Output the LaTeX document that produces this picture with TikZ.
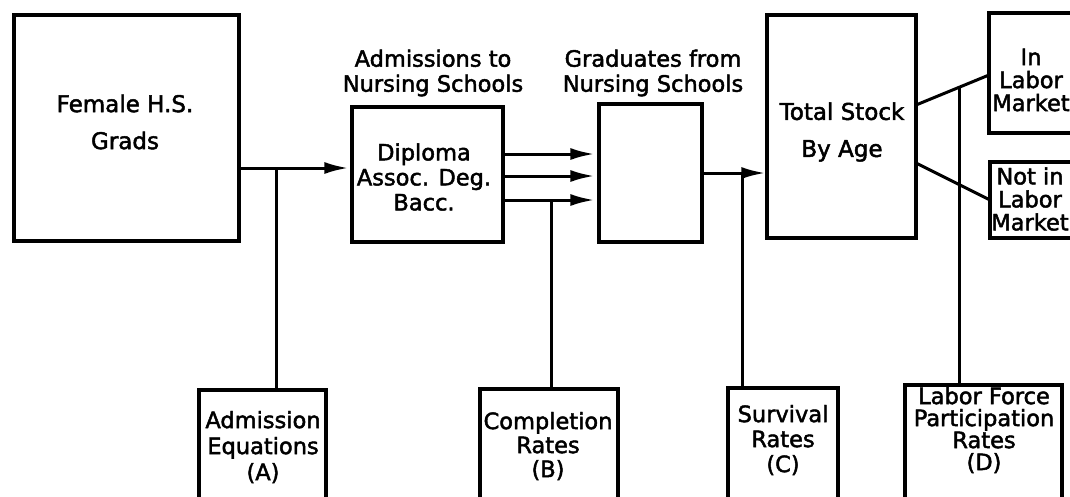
\documentclass[tikz,border=0pt]{standalone}
\usepackage{fontspec}
\setmainfont{DejaVu Sans}[FakeBold=2]
\usetikzlibrary{arrows.meta,calc}
\begin{document}
\begin{tikzpicture}[x=1pt,y=-1pt,
  line width=3pt,
  boxnode/.style={draw,rectangle,inner sep=0pt,line width=3.2pt},
  txt/.style={align=center,inner sep=0pt,font=\fontsize{22.5}{25}\selectfont},
  arr/.style={-{Latex[length=24pt,width=12pt]}},
]
\useasboundingbox (0,0) rectangle (1070,496);
\clip (0,0) rectangle (1070,496);
% main boxes
\node[boxnode,minimum width=225pt,minimum height=226pt] (fem) at (126.5,128) {};
\node[txt,font=\fontsize{23}{37}\selectfont] (femt) at (125,122) {Female H.S.\\Grads};
\node[boxnode,minimum width=151pt,minimum height=135pt] (dip) at (427.5,174.5) {};
\node[txt] (dipt) at (424,177) {Diploma\\Assoc. Deg.\\Bacc.};
\node[txt,font=\fontsize{22.5}{25}\selectfont] (admt) at (433,73) {Admissions to\\Nursing Schools};
\node[boxnode,minimum width=103pt,minimum height=138pt] (grad) at (650.5,173) {};
\node[txt,font=\fontsize{22.5}{25}\selectfont] (gradt) at (653,73) {Graduates from\\Nursing Schools};
\node[boxnode,minimum width=149pt,minimum height=223pt] (tot) at (841.5,126.5) {};
\node[txt,font=\fontsize{23}{37}\selectfont] (tott) at (842,132) {Total Stock\\By Age};
\node[boxnode,minimum width=130pt,minimum height=120pt] (inl) at (1054,73) {};
\node[txt,font=\fontsize{22.5}{23}\selectfont] (inlt) at (1031,80) {In\\Labor\\Market};
\node[boxnode,minimum width=130pt,minimum height=76pt] (notl) at (1055,200) {};
\node[txt,font=\fontsize{22.5}{23}\selectfont] (notlt) at (1030,199) {Not in\\Labor\\Market};
% bottom boxes
\node[boxnode,minimum width=127pt,minimum height=140pt] (A) at (262.5,460) {};
\node[txt,font=\fontsize{22.5}{26}\selectfont] (At) at (263,447) {Admission\\Equations\\(A)};
\node[boxnode,minimum width=138pt,minimum height=140pt] (B) at (549,459) {};
\node[txt,font=\fontsize{22.5}{24}\selectfont] (Bt) at (548,446) {Completion\\Rates\\(B)};
\node[boxnode,minimum width=110pt,minimum height=140pt] (C) at (783,458) {};
\node[txt,font=\fontsize{22.5}{25}\selectfont] (Ct) at (783,440) {Survival\\Rates\\(C)};
\node[boxnode,minimum width=157pt,minimum height=140pt] (D) at (983.5,455) {};
\node[txt,font=\fontsize{22.5}{22}\selectfont] (Dt) at (984,430) {Labor Force\\Participation\\Rates\\(D)};
% connectors
\coordinate (yA) at (0,168);
\coordinate (jA) at (276,168);
\draw[arr] (yA -| fem.east) -- ([xshift=-2pt]yA -| dip.west);
\draw (jA) -- (jA |- A.north);
\coordinate (y1) at (0,154);
\coordinate (y2) at (0,176);
\coordinate (y3) at (0,200);
\draw[arr] (y1 -| dip.east) -- ([xshift=-3pt]y1 -| grad.west);
\draw[arr] (y2 -| dip.east) -- ([xshift=-3pt]y2 -| grad.west);
\draw[arr] (y3 -| dip.east) -- ([xshift=-3pt]y3 -| grad.west);
\coordinate (jB) at (551,200);
\draw (jB) -- (jB |- B.north);
\coordinate (yC) at (0,173);
\coordinate (jC) at (742,173);
\draw[arr] (yC -| grad.east) -- (yC -| tot.west);
\draw (jC) -- (jC |- C.north);
\coordinate (t1) at (916,105);
\coordinate (t2) at (989,75);
\draw (t1) -- (t2);
\coordinate (jD) at ($(t1)!0.589!(t2)$);
\draw (jD) -- (jD |- D.north);
\coordinate (t3) at (916,163);
\coordinate (t4) at (990,200);
\draw (t3) -- (t4);
\end{tikzpicture}
\end{document}
